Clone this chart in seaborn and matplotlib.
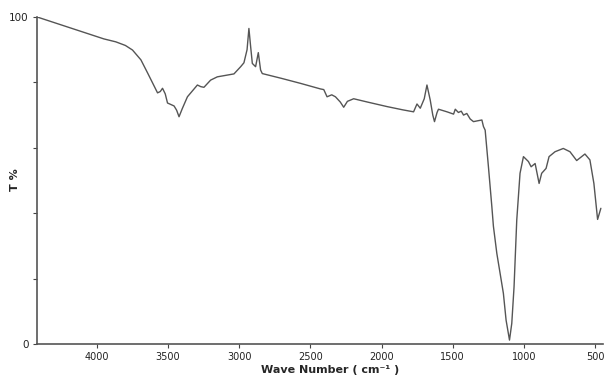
import matplotlib
matplotlib.use("Agg")
import matplotlib.pyplot as plt
import seaborn as sns
import pandas as pd

wavenumber = [4420, 3951, 3867, 3800, 3750, 3691, 3644, 3574, 3555, 3539, 3520, 3504,
              3458, 3440, 3423, 3400, 3364, 3294, 3270, 3248, 3201, 3154, 3037, 2990,
              2967, 2945, 2932, 2920, 2908, 2885, 2866, 2850, 2838, 2700, 2569, 2429,
              2406, 2383, 2350, 2324, 2290, 2266, 2240, 2196, 2100, 1961, 1850, 1775,
              1751, 1728, 1700, 1681, 1665, 1658, 1640, 1628, 1610, 1600, 1540, 1494,
              1482, 1460, 1440, 1424, 1401, 1377, 1354, 1320, 1295, 1284, 1272, 1249,
              1225, 1214, 1190, 1144, 1125, 1101, 1085, 1069, 1050, 1027, 1003, 968,
              949, 921, 893, 875, 844, 823, 781, 723, 676, 629, 571, 536, 508, 482, 459]
transmittance = [100, 93.3, 92.4, 91.3, 89.9, 86.9, 82.9, 76.8, 77.2, 78.2, 76.5, 73.7,
                 72.8, 71.5, 69.5, 72.0, 75.6, 79.2, 78.7, 78.5, 80.7, 81.7, 82.6, 84.8,
                 86.0, 90.0, 96.5, 91.0, 85.8, 84.8, 89.1, 83.8, 82.7, 81.2, 79.7, 78.0,
                 77.8, 75.6, 76.2, 75.6, 74.0, 72.4, 74.2, 75.0, 74.0, 72.6, 71.6, 71.0,
                 73.4, 72.1, 75.0, 79.2, 76.0, 74.6, 70.0, 68.0, 70.8, 71.8, 71.0, 70.3,
                 71.8, 70.8, 71.2, 70.0, 70.5, 68.8, 68.0, 68.3, 68.5, 66.5, 65.4, 54.2,
                 42.0, 36.0, 27.7, 15.5, 7.3, 1.2, 6.3, 17.5, 37.9, 52.2, 57.3, 55.8,
                 54.2, 55.2, 49.1, 52.2, 53.7, 57.3, 58.8, 59.8, 58.8, 56.1, 58.1, 56.3,
                 49.1, 38.1, 41.5]

x_ticks = [4000, 3500, 3000, 2500, 2000, 1500, 1000, 500]
y_ticks = [0, 20, 40, 60, 80, 100]
y_labels = ["0", "", "", "", "", "100"]

df = pd.DataFrame({"Wave Number": wavenumber, "T %": transmittance})

sns.set_style("white")
fig = plt.figure(figsize=(6.05, 3.8), dpi=100)
ax = fig.add_axes([37 / 605, 36 / 380, 566 / 605, 327 / 380])
sns.lineplot(data=df, x="Wave Number", y="T %", ax=ax, color="#555555",
             linewidth=1.0, estimator=None)

ax.set_xlim(4421, 444)
ax.set_ylim(0, 100)
ax.set_xticks(x_ticks)
ax.set_xticklabels([str(t) for t in x_ticks], fontsize=7, color="#222222")
ax.set_yticks(y_ticks)
ax.set_yticklabels(y_labels, fontsize=7.5, color="#222222")
ax.tick_params(axis="both", direction="out", length=3, width=0.8, color="#444444",
               pad=3, bottom=True, left=True)

for s in ["top", "right"]:
    ax.spines[s].set_visible(False)
for s in ["left", "bottom"]:
    ax.spines[s].set_color("#555555")
    ax.spines[s].set_linewidth(1.2)

ax.set_xlabel("Wave Number ( cm⁻¹ )", fontsize=8, fontweight="bold")
ax.xaxis.set_label_coords((330 - 37) / 566, (380 - 370 - 36) / 327)
ax.xaxis.label.set_va("center")
ax.set_ylabel("T %", fontsize=8, fontweight="bold")
ax.yaxis.set_label_coords((15 - 37) / 566, (380 - 180 - 36) / 327)
ax.yaxis.label.set_va("center")

fig.savefig("out.png", dpi=100, facecolor="white")
